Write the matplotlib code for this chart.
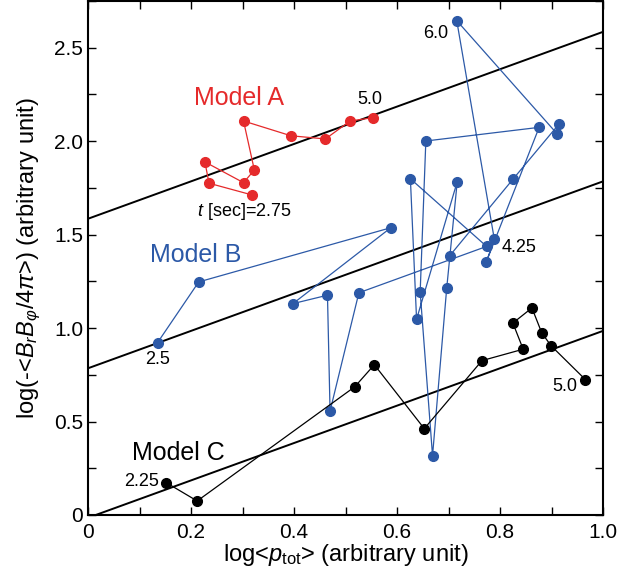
import numpy as np
import matplotlib
matplotlib.use('Agg')
import matplotlib.pyplot as plt
from matplotlib.ticker import MultipleLocator, FuncFormatter

plt.rcParams['font.family'] = ['Liberation Sans', 'DejaVu Sans']
plt.rcParams['mathtext.fontset'] = 'custom'
plt.rcParams['mathtext.rm'] = 'Liberation Sans'
plt.rcParams['mathtext.it'] = 'Liberation Sans:italic'

# Model A (t = 2.75 ... 5.0)
a_x = [0.319, 0.235, 0.227, 0.302, 0.323, 0.302, 0.394, 0.461, 0.509, 0.554]
a_y = [1.712, 1.775, 1.889, 1.778, 1.846, 2.108, 2.029, 2.012, 2.108, 2.126]

# Model B (starts at t = 2.5, passes 4.25)
b_x = [0.135, 0.215, 0.588, 0.398, 0.465, 0.470, 0.526, 0.774,
       0.626, 0.638, 0.717, 0.6965, 0.669, 0.645, 0.656, 0.876,
       0.7734, 0.789, 0.716, 0.911, 0.914, 0.825, 0.702]
b_y = [0.922, 1.247, 1.537, 1.131, 1.176, 0.556, 1.189, 1.437,
       1.799, 1.047, 1.784, 1.213, 0.317, 1.193, 2.001, 2.074,
       1.354, 1.475, 2.645, 2.039, 2.090, 1.796, 1.386]

# Model C (t = 2.25 ... 5.0)
c_x = [0.152, 0.212, 0.518, 0.556, 0.653, 0.765, 0.845, 0.825, 0.862, 0.881, 0.899, 0.966]
c_y = [0.173, 0.075, 0.686, 0.804, 0.462, 0.826, 0.887, 1.027, 1.108, 0.975, 0.906, 0.724]

# reference lines y = x + b
ref_slope = 1.0
ref_offsets = [1.585, 0.785, -0.015]

red = '#e52a2b'
blue = '#2c59a7'

fig = plt.figure(figsize=(6.34, 5.78), dpi=100)
ax = fig.add_axes([88/634, 63/578, 515/634, 514/578])

xx = np.array([0.0, 1.0])
for b in ref_offsets:
    ax.plot(xx, ref_slope * xx + b, color='black', lw=1.4, zorder=1)

ax.plot(a_x, a_y, '-o', color=red, lw=0.9, ms=7, zorder=3)
ax.plot(b_x, b_y, '-o', color=blue, lw=0.9, ms=7, zorder=3)
ax.plot(c_x, c_y, '-o', color='black', lw=0.9, ms=7, zorder=3)

ax.text(0.293, 2.232, 'Model A', color=red, fontsize=18, ha='center', va='center')
ax.text(0.548, 2.222, '5.0', fontsize=13, ha='center', va='center')
ax.text(0.303, 1.625, '$t$ [sec]=2.75', fontsize=13, ha='center', va='center')

ax.text(0.21, 1.39, 'Model B', color=blue, fontsize=18, ha='center', va='center')
ax.text(0.135, 0.832, '2.5', fontsize=13, ha='center', va='center')
ax.text(0.837, 1.431, '4.25', fontsize=13, ha='center', va='center')
ax.text(0.676, 2.575, '6.0', fontsize=13, ha='center', va='center')

ax.text(0.175, 0.334, 'Model C', color='black', fontsize=18, ha='center', va='center')
ax.text(0.138, 0.178, '2.25', fontsize=13, ha='right', va='center')
ax.text(0.925, 0.686, '5.0', fontsize=13, ha='center', va='center')

ax.set_xlim(0, 1.0)
ax.set_ylim(0, 2.75)

ax.xaxis.set_major_locator(MultipleLocator(0.2))
ax.xaxis.set_minor_locator(MultipleLocator(0.1))
ax.yaxis.set_major_locator(MultipleLocator(0.5))
ax.yaxis.set_minor_locator(MultipleLocator(0.25))

fmt = FuncFormatter(lambda v, pos: '0' if abs(v) < 1e-9 else '%.1f' % v)
ax.xaxis.set_major_formatter(fmt)
ax.yaxis.set_major_formatter(fmt)

ax.tick_params(which='both', direction='in', top=True, right=True,
               length=6, width=1.0, labelsize=15)
ax.tick_params(axis='x', pad=6)
for s in ax.spines.values():
    s.set_linewidth(1.5)

ax.set_xlabel('log<$p_{\\rm tot}$> (arbitrary unit)', fontsize=17, labelpad=0)
ax.set_ylabel('log(-<$B_rB_{\\varphi}/4\\pi$>) (arbitrary unit)', fontsize=17, labelpad=8)

plt.savefig('out.png', dpi=100)
